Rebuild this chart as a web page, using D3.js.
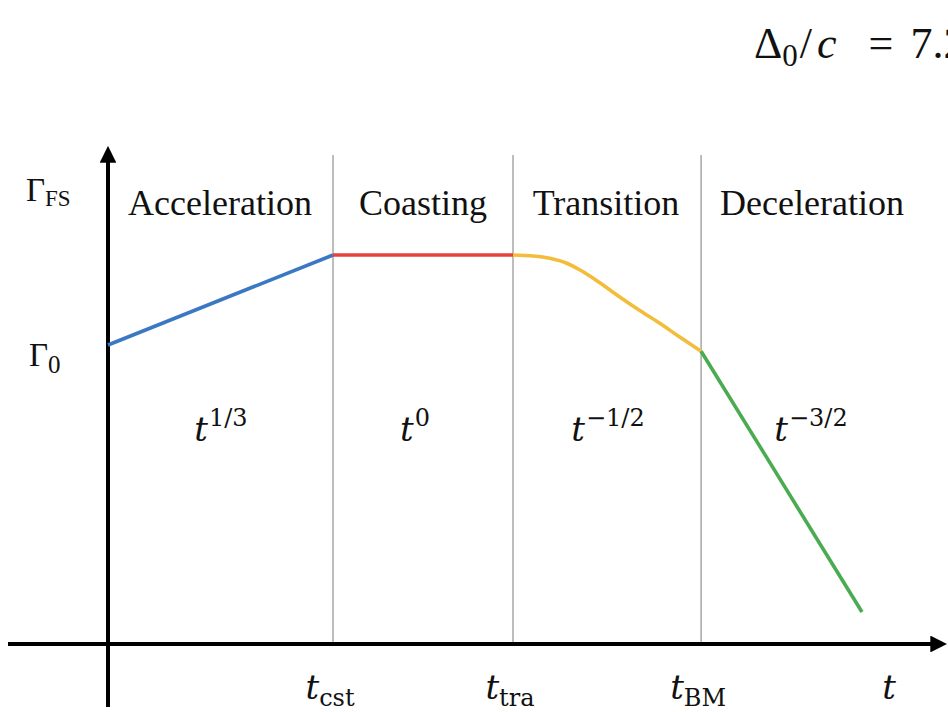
<!DOCTYPE html>
<html>
<head>
<meta charset="utf-8">
<script src="https://cdn.jsdelivr.net/npm/d3@7"></script>
<style>
  html, body { margin: 0; padding: 0; background: #fff; overflow: hidden; }
  svg { display: block; }
  text { fill: #111; }
</style>
</head>
<body>
<svg id="chart" width="948" height="712"></svg>
<script>
// Evolution phases of the forward-shock Lorentz factor (schematic, log-log)
const phases = ["Acceleration", "Coasting", "Transition", "Deceleration"];
// phase boundaries in log-time units (0 = origin)
const phaseStart = [0, 1, 1.8, 2.636];
const scalingExp = ["1/3", "0", "\u22121/2", "\u22123/2"];
const tickPositions = [1, 1.8, 2.636];
const tickSubs = ["cst", "tra", "BM"];

// Γ_FS in log units (0 = Γ0, 1 = coasting plateau)
const accelSeries = [[0, 0], [1, 1]];
const coastSeries = [[1, 1], [1.8, 1]];
const transitionSeries = [
  [1.8, 1.0], [1.890, 0.989], [1.964, 0.963], [2.039, 0.908],
  [2.098, 0.833], [2.157, 0.741], [2.231, 0.611], [2.305, 0.481],
  [2.379, 0.359], [2.453, 0.241], [2.528, 0.111], [2.601, -0.011],
  [2.636, -0.069]
];
const decelSeries = [[2.636, -0.069], [3.351, -2.967]];
const seriesColors = ["#3b78c3", "#e8403b", "#f3bd3b", "#4aab50"];

const svg = d3.select("#chart");
const x = d3.scaleLinear().domain([0, 1]).range([108, 333]);
const y = d3.scaleLinear().domain([0, 1]).range([345, 255]);
const axisY = 644;

const serif = "'Liberation Serif', 'Times New Roman', serif";
const mathFont = "'DejaVu Serif', serif";

// arrow markers
const defs = svg.append("defs");
defs.append("marker")
  .attr("id", "arrow")
  .attr("viewBox", "0 0 10 10")
  .attr("refX", 1).attr("refY", 5)
  .attr("markerWidth", 4.2).attr("markerHeight", 4.2)
  .attr("markerUnits", "strokeWidth")
  .attr("orient", "auto")
  .append("path").attr("d", "M0,0 L10,5 L0,10 Z").attr("fill", "#000");

// phase dividers
svg.append("g").selectAll("line")
  .data(phaseStart.slice(1))
  .join("line")
  .attr("x1", d => x(d)).attr("x2", d => x(d))
  .attr("y1", 155).attr("y2", axisY)
  .attr("stroke", "#9a9a9a").attr("stroke-width", 1.3);

// axes
svg.append("line")
  .attr("x1", 8).attr("x2", 932)
  .attr("y1", axisY).attr("y2", axisY)
  .attr("stroke", "#000").attr("stroke-width", 4)
  .attr("marker-end", "url(#arrow)");
svg.append("line")
  .attr("x1", x(0)).attr("x2", x(0))
  .attr("y1", 707).attr("y2", 161)
  .attr("stroke", "#000").attr("stroke-width", 4)
  .attr("marker-end", "url(#arrow)");

// curves
const line = d3.line().x(d => x(d[0])).y(d => y(d[1]));
const smooth = d3.line().x(d => x(d[0])).y(d => y(d[1])).curve(d3.curveMonotoneX);
const series = [accelSeries, coastSeries, transitionSeries, decelSeries];
series.forEach((s, i) => {
  svg.append("path")
    .attr("d", (i === 2 ? smooth : line)(s))
    .attr("fill", "none")
    .attr("stroke", seriesColors[i])
    .attr("stroke-width", 3.6)
    .attr("stroke-linecap", "butt");
});

// phase titles
const titleX = [220, 423, 606, 812];
svg.append("g").selectAll("text")
  .data(phases)
  .join("text")
  .attr("x", (d, i) => titleX[i])
  .attr("y", 215)
  .attr("text-anchor", "middle")
  .attr("font-family", serif)
  .attr("font-size", 36)
  .text(d => d);

// scaling laws t^n
const expX = [221, 415, 608, 811];
const expG = svg.append("g");
scalingExp.forEach((e, i) => {
  const t = expG.append("text")
    .attr("x", expX[i]).attr("y", 441)
    .attr("text-anchor", "middle")
    .attr("font-family", mathFont);
  t.append("tspan").attr("font-style", "italic").attr("font-size", 34).text("t");
  t.append("tspan").attr("font-size", 24).attr("dy", -15).attr("dx", 1).text(e);
});

// time tick labels
const tickG = svg.append("g");
tickPositions.forEach((p, i) => {
  const t = tickG.append("text")
    .attr("x", x(p) - 3).attr("y", 699)
    .attr("text-anchor", "middle")
    .attr("font-family", mathFont);
  t.append("tspan").attr("font-style", "italic").attr("font-size", 34).text("t");
  t.append("tspan").attr("font-size", 24).attr("dy", 7).text(tickSubs[i]);
});
svg.append("text")
  .attr("x", 889).attr("y", 699)
  .attr("text-anchor", "middle")
  .attr("font-family", mathFont)
  .attr("font-style", "italic")
  .attr("font-size", 34)
  .text("t");

// y labels
const gfs = svg.append("text").attr("x", 26).attr("y", 201).attr("font-family", serif);
gfs.append("tspan").attr("font-size", 33).text("\u0393");
gfs.append("tspan").attr("font-size", 23).attr("dy", 5).text("FS");
const g0 = svg.append("text").attr("x", 29).attr("y", 366).attr("font-family", serif);
g0.append("tspan").attr("font-size", 33).text("\u0393");
g0.append("tspan").attr("font-size", 25).attr("dy", 7).text("0");

// shell width annotation
const dt = svg.append("text").attr("x", 754).attr("y", 58).attr("font-family", serif).attr("font-size", 44);
dt.append("tspan").text("\u0394");
dt.append("tspan").attr("font-size", 31).attr("dy", 8).text("0");
dt.append("tspan").attr("dy", -8).attr("dx", 2).text("/");
dt.append("tspan").attr("dx", 5).attr("font-style", "italic").text("c");
dt.append("tspan").attr("dx", 32).text("=");
dt.append("tspan").attr("dx", 17).text("7.2");
</script>
</body>
</html>
